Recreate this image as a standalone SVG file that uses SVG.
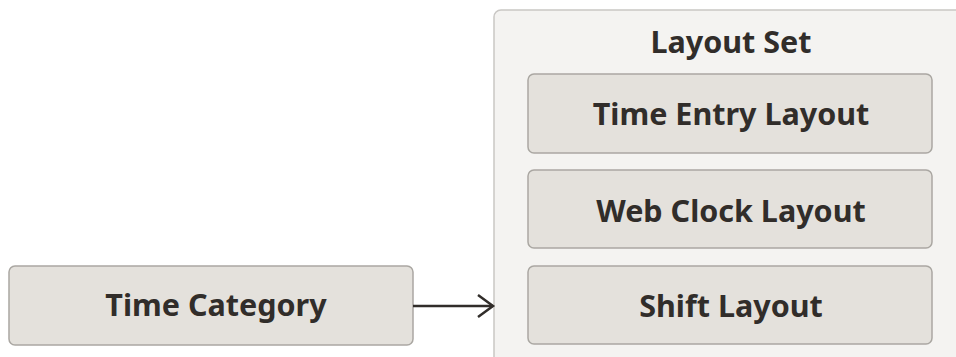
<svg xmlns="http://www.w3.org/2000/svg" width="956" height="357" viewBox="0 0 956 357">
<defs>
<style>
.box{fill:#e4e1dc;stroke:#aaa7a2;stroke-width:1.5}
.cont{fill:#f4f3f1;stroke:#c9c7c4;stroke-width:1.5}
.t{font-family:"Noto Sans","Open Sans",sans-serif;font-weight:bold;font-size:30.5px;fill:#312d2a;text-anchor:middle}
.conn{fill:none;stroke:#312d2a;stroke-width:2.5}
</style>
<marker id="arr" markerWidth="20" markerHeight="26" refX="17" refY="13" orient="auto" markerUnits="userSpaceOnUse">
<path d="M2,2 L17,13 L2,24" fill="none" stroke="#312d2a" stroke-width="2.5"/>
</marker>
</defs>
<rect width="956" height="357" fill="#ffffff"/>
<g id="layout-set">
<rect class="cont" x="494" y="10" width="480" height="360" rx="7"/>
<text class="t" x="731" y="53">Layout Set</text>
</g>
<g id="time-entry-layout">
<rect class="box" x="528" y="74" width="404" height="79" rx="6"/>
<text class="t" x="731" y="125">Time Entry Layout</text>
</g>
<g id="web-clock-layout">
<rect class="box" x="528" y="170" width="404" height="78" rx="6"/>
<text class="t" x="731" y="222">Web Clock Layout</text>
</g>
<g id="shift-layout">
<rect class="box" x="528" y="266" width="404" height="78" rx="6"/>
<text class="t" x="731" y="317">Shift Layout</text>
</g>
<g id="time-category">
<rect class="box" x="9" y="266" width="404" height="79" rx="6"/>
<text class="t" x="216" y="316">Time Category</text>
</g>
<g id="connectors">
<line class="conn" x1="413" y1="306" x2="493" y2="306" marker-end="url(#arr)"/>
</g>
</svg>
